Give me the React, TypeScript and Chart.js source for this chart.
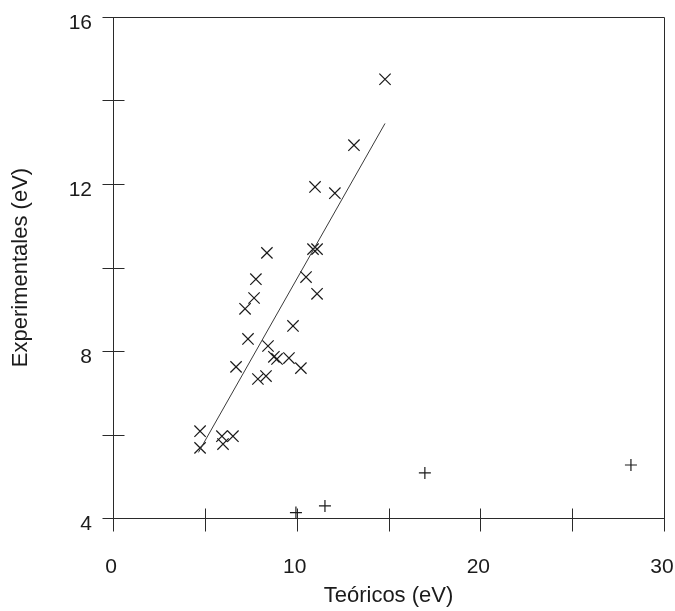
import { useEffect, useRef } from "react";
import { Chart, registerables } from "chart.js";

Chart.register(...registerables);

// Main series: theoretical vs experimental energies (eV)
const teoricos = [
  14.81, 13.12, 11.0, 12.08, 10.89, 11.11, 8.38, 10.51, 7.78, 11.11, 7.68, 7.19, 9.8, 7.35,
  8.44, 8.76, 8.93, 9.58, 10.23, 6.7, 7.89, 8.33, 4.74, 4.74, 5.93, 5.99, 6.53,
];
const experimentales = [
  14.51, 12.93, 11.93, 11.78, 10.44, 10.44, 10.35, 9.77, 9.72, 9.37, 9.27, 9.01, 8.6, 8.29,
  8.12, 7.86, 7.81, 7.83, 7.59, 7.62, 7.33, 7.4, 6.08, 5.68, 5.96, 5.77, 5.96,
];

// Secondary points (plus markers)
const otrosTeoricos = [9.96, 11.54, 16.98, 28.2];
const otrosExperimentales = [4.13, 4.29, 5.08, 5.27];

// Fitted straight line, end points
const ajusteX = [4.65, 14.81];
const ajusteY = [5.57, 13.45];

// Axis ranges and labelled ticks
const xRange = [0, 30];
const xStep = 5;
const xLabelled = [0, 10, 20, 30];
const yRange = [4, 16];
const yStep = 2;
const yLabelled = [4, 8, 12, 16];

const INK = "#1b1b1b";
const AXIS = "#2a2a2a";
const FONT = '"Liberation Sans", Arial, Helvetica, sans-serif';

const toPoints = (xs: number[], ys: number[]) => xs.map((x, i) => ({ x, y: ys[i] }));

// Box frame plus tick marks that cross the left and bottom axes
const frameTicks = {
  id: "frameTicks",
  beforeDatasetsDraw(chart: any) {
    const { ctx, chartArea: a, scales } = chart;
    const x = scales.x;
    const y = scales.y;
    const L = Math.round(a.left) + 0.5;
    const R = Math.round(a.right) + 0.5;
    const T = Math.round(a.top) + 0.5;
    const B = Math.round(a.bottom) + 0.5;
    ctx.save();
    ctx.strokeStyle = AXIS;
    ctx.lineWidth = 1;
    ctx.beginPath();
    ctx.moveTo(L, T);
    ctx.lineTo(R, T);
    ctx.lineTo(R, B);
    ctx.lineTo(L, B);
    ctx.closePath();
    for (const t of x.ticks) {
      const px = Math.round(x.getPixelForValue(t.value)) + 0.5;
      ctx.moveTo(px, B - 10);
      ctx.lineTo(px, B + 13);
    }
    for (const t of y.ticks) {
      const py = Math.round(y.getPixelForValue(t.value)) + 0.5;
      ctx.moveTo(L - 11, py);
      ctx.lineTo(L + 11, py);
    }
    ctx.stroke();
    ctx.restore();
  },
};

// Fixed axis band sizes; label overhang must not shrink the plotting area
const fixBand = (size: number, horizontal: boolean) => (s: any) => {
  if (horizontal) s.height = size;
  else s.width = size;
  s.paddingLeft = 0;
  s.paddingRight = 0;
  s.paddingTop = 0;
  s.paddingBottom = 0;
};

export default function App() {
  const canvasRef = useRef<HTMLCanvasElement | null>(null);

  useEffect(() => {
    if (!canvasRef.current) return;
    const tickFont = { family: FONT, size: 21 };
    const titleFont = { family: FONT, size: 22 };
    const chart = new Chart(canvasRef.current, {
      type: "scatter",
      data: {
        datasets: [
          {
            data: toPoints(ajusteX, ajusteY),
            showLine: true,
            borderColor: "#3a3a3a",
            borderWidth: 1,
            pointRadius: 0,
            clip: false,
          } as any,
          {
            data: toPoints(teoricos, experimentales),
            pointStyle: "crossRot",
            pointRadius: 8,
            borderColor: INK,
            borderWidth: 1.2,
            backgroundColor: INK,
            clip: false,
          },
          {
            data: toPoints(otrosTeoricos, otrosExperimentales),
            pointStyle: "cross",
            pointRadius: 6,
            borderColor: INK,
            borderWidth: 1.2,
            backgroundColor: INK,
            clip: false,
          },
        ],
      },
      options: {
        responsive: false,
        animation: false,
        devicePixelRatio: 1,
        events: [],
        layout: { padding: { left: 0, top: 17, right: 11, bottom: 0 } },
        plugins: {
          legend: { display: false },
          tooltip: { enabled: false },
        },
        scales: {
          x: {
            type: "linear",
            min: xRange[0],
            max: xRange[1],
            grid: { display: false, drawTicks: false, tickLength: 0 },
            border: { display: false },
            ticks: {
              stepSize: xStep,
              autoSkip: false,
              maxRotation: 0,
              padding: 37,
              labelOffset: -2,
              color: INK,
              font: tickFont,
              callback: (v: any) => (xLabelled.includes(Number(v)) ? String(v) : ""),
            },
            title: {
              display: true,
              text: "Teóricos (eV)",
              color: INK,
              font: titleFont,
              padding: { top: 0, bottom: 2 },
            },
            afterFit: fixBand(93, true),
          },
          y: {
            type: "linear",
            min: yRange[0],
            max: yRange[1],
            grid: { display: false, drawTicks: false, tickLength: 0 },
            border: { display: false },
            ticks: {
              stepSize: yStep,
              autoSkip: false,
              padding: 21,
              labelOffset: 6,
              color: INK,
              font: tickFont,
              callback: (v: any) => (yLabelled.includes(Number(v)) ? String(v) : ""),
            },
            title: {
              display: true,
              text: "Experimentales (eV)",
              color: INK,
              font: titleFont,
              padding: { top: 8, bottom: 0 },
            },
            afterFit: fixBand(113, false),
          },
        },
      },
      plugins: [frameTicks],
    });
    return () => chart.destroy();
  }, []);

  return (
    <div style={{ position: "absolute", left: 0, top: 0, width: 675, height: 611, background: "#fff" }}>
      <canvas ref={canvasRef} width={675} height={611} style={{ display: "block" }} />
    </div>
  );
}
